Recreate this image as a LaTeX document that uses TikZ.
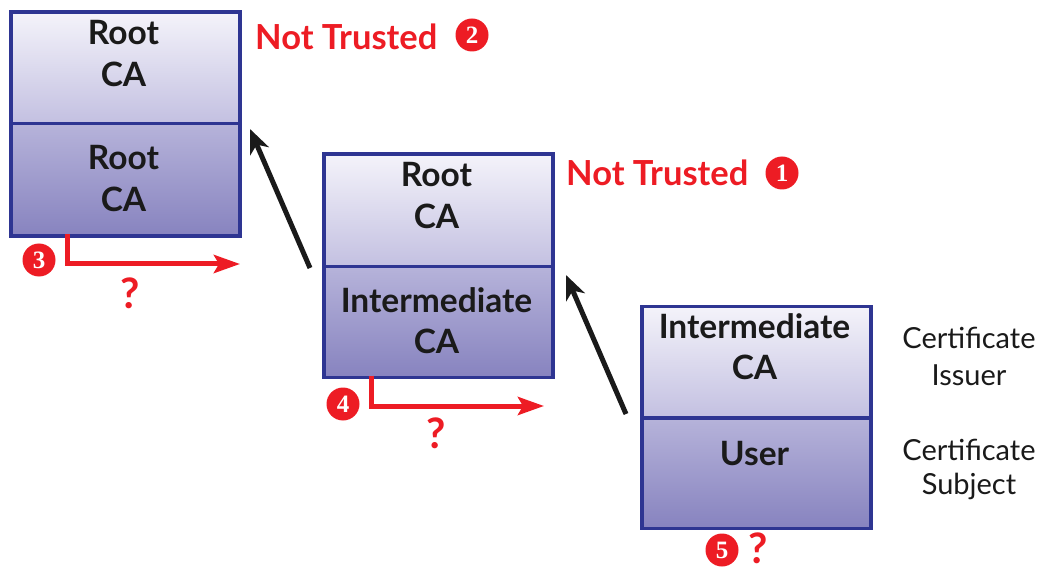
\documentclass[tikz,border=0pt]{standalone}
\usepackage{fontspec}
\setmainfont{Lato}
\newfontfamily\numfont{Liberation Serif}
\usetikzlibrary{arrows.meta}
\definecolor{frameblue}{HTML}{2E3592}
\definecolor{alertred}{HTML}{ED1C24}
\definecolor{shadeA}{HTML}{F4F3FA}
\definecolor{shadeB}{HTML}{C3C0E1}
\definecolor{shadeC}{HTML}{B6B3DA}
\definecolor{shadeD}{HTML}{8783BF}
\definecolor{inkblack}{HTML}{1A1A1A}
\begin{document}
\begin{tikzpicture}[x=1pt,y=-1pt,
  half/.style={rectangle, draw=frameblue, line width=3.5pt, minimum width=229pt,
    inner sep=0pt, anchor=north west},
  upperhalf/.style={half, top color=shadeA, bottom color=shadeB},
  lowerhalf/.style={half, top color=shadeC, bottom color=shadeD},
  lbl/.style={font=\bfseries\fontsize{33.5}{33.5}\selectfont, text=inkblack, anchor=base, inner sep=0pt},
  side/.style={font=\fontsize{29}{29}\selectfont, text=inkblack, anchor=base, inner sep=0pt},
  warn/.style={font=\bfseries\fontsize{34.5}{34.5}\selectfont, text=alertred, anchor=base west, inner sep=0pt},
  query/.style={font=\bfseries\fontsize{42}{42}\selectfont, text=alertred, anchor=base, inner sep=0pt},
  badge/.style={circle, fill=alertred, text=white, minimum size=33pt, inner sep=0pt,
    font=\numfont\bfseries\fontsize{25}{25}\selectfont},
  chain/.style={draw=inkblack, line width=5pt, -{Stealth[length=24pt, width=20pt, inset=7pt]}},
  probe/.style={draw=alertred, line width=5pt, -{Stealth[length=26pt, width=18pt, inset=5pt]}}
]
\useasboundingbox (0,0) rectangle (1046,569);

% left certificate: self-signed root
\node[upperhalf, minimum height=111.5pt] (b1up) at (9,10.5) {};
\node[lowerhalf, minimum height=112.5pt] (b1lo) at (9,122) {};
\node[lbl] (t1a) at (123.5,45) {Root};
\node[lbl] (t1b) at (123.5,87) {CA};
\node[lbl] (t1c) at (123.5,170) {Root};
\node[lbl] (t1d) at (123.5,212) {CA};

% middle certificate: intermediate signed by root
\node[upperhalf, minimum height=112.5pt] (b2up) at (322,152.5) {};
\node[lowerhalf, minimum height=110.5pt] (b2lo) at (322,265) {};
\node[lbl] (t2a) at (436.5,187) {Root};
\node[lbl] (t2b) at (436.5,229) {CA};
\node[lbl] (t2c) at (436.5,312) {Intermediate};
\node[lbl] (t2d) at (436.5,353) {CA};

% right certificate: user signed by intermediate
\node[upperhalf, minimum height=111.5pt] (b3up) at (640,304.5) {};
\node[lowerhalf, minimum height=110.5pt] (b3lo) at (640,416) {};
\node[lbl] (t3a) at (754.5,338) {Intermediate};
\node[lbl] (t3b) at (754.5,379) {CA};
\node[lbl] (t3c) at (754.5,465) {User};

% field captions
\node[side] (c1) at (969,348) {Certificate};
\node[side] (c2) at (969,385) {Issuer};
\node[side] (c3) at (969,460) {Certificate};
\node[side] (c4) at (969,494) {Subject};

% trust warnings
\node[warn] (w2) at (255,50) {Not Trusted};
\node[badge] (n2) at (472,35) {2};
\node[warn] (w1) at (566,186) {Not Trusted};
\node[badge] (n1) at (782,173) {1};

% chain links
\coordinate (k1s) at (310,268);
\coordinate (k1e) at (250,129);
\coordinate (k2s) at (626,414);
\coordinate (k2e) at (566,275);
\draw[chain] (k1s) -- (k1e);
\draw[chain] (k2s) -- (k2e);

% unanswered lookups
\coordinate (p3s) at (67,234.5);
\coordinate (p3e) at (240,264);
\draw[probe] (p3s) |- (p3e);
\node[badge] (n3) at (39,260) {3};
\node[query] (q3) at (130,308) {?};

\coordinate (p4s) at (371,375.5);
\coordinate (p4e) at (544,406);
\draw[probe] (p4s) |- (p4e);
\node[badge] (n4) at (343,404) {4};
\node[query] (q4) at (436,448) {?};

\node[badge] (n5) at (722,550) {5};
\node[query] (q5) at (758,563) {?};
\end{tikzpicture}
\end{document}
